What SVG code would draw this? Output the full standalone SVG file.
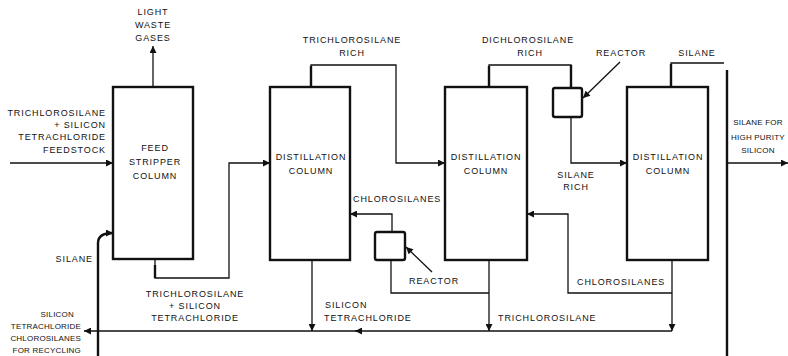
<svg xmlns="http://www.w3.org/2000/svg" width="788" height="356" viewBox="0 0 788 356">
<defs>
<marker id="ah" viewBox="0 0 10 10" refX="10" refY="5" markerWidth="8" markerHeight="7" markerUnits="userSpaceOnUse" orient="auto">
<path d="M0,0 L10,5 L0,10 z" fill="#111"/>
</marker>
</defs>
<style>
text{font-family:"Liberation Sans",Arial,sans-serif;font-size:9px;letter-spacing:0.9px;fill:#111}
.c{text-anchor:middle}
.e{text-anchor:end}
.s{font-size:8px;letter-spacing:0.2px}
.box{fill:#fff;stroke:#111;stroke-width:2.4}
.ln{fill:none;stroke:#111;stroke-width:1.3}
.tk{fill:none;stroke:#111;stroke-width:2.4}
.ar{marker-end:url(#ah)}
</style>
<rect width="788" height="356" fill="#fff"/>

<g id="connectors">
<path class="ln ar" d="M153,87 V46"/>
<path class="ln ar" d="M10,163 H113"/>
<path class="tk ar" d="M98,356 V243 Q98,233 113,233"/>
<path class="ln ar" d="M155,259 V278 H229 V163 H270"/>
<path class="tk" d="M155,265 V278"/>
<path class="ln ar" d="M311,87 V65 H396 V163 H445"/>
<path class="tk" d="M311,87 V66"/>
<path class="ln ar" d="M312,260 V331"/>
<path class="ln ar" d="M392,232 V214 H350"/>
<path class="ln" d="M391,260 V293 H489"/>
<path class="ln ar" d="M489,260 V331"/>
<path class="ln" d="M489,87 V65 H571 V88"/>
<path class="tk" d="M489,87 V66"/>
<path class="tk" d="M571,65 V88"/>
<path class="ln ar" d="M571,117 V163 H627"/>
<path class="ln" d="M671,87 V63 H724"/>
<path class="tk" d="M671,87 V64"/>
<path class="tk" d="M727,70 V356"/>
<path class="ln ar" d="M727,163 H788"/>
<path class="ln ar" d="M672,260 V331"/>
<path class="ln ar" d="M672,293 H568 V214 H527"/>
<path class="ln ar" d="M672,331 H355"/>
<path class="ln ar" d="M357,331 H84"/>
<path class="ln ar" d="M432,272 L406,247"/>
<path class="ln ar" d="M620,62 L583,98"/>
</g>

<g id="feed-stripper">
<rect class="box" x="113" y="87" width="80" height="172"/>
<text class="c" x="155" y="151">FEED</text>
<text class="c" x="155" y="165">STRIPPER</text>
<text class="c" x="155" y="179">COLUMN</text>
</g>
<g id="distillation-1">
<rect class="box" x="270" y="87" width="80" height="173"/>
<text class="c" x="311" y="160">DISTILLATION</text>
<text class="c" x="311" y="174">COLUMN</text>
</g>
<g id="distillation-2">
<rect class="box" x="445" y="87" width="82" height="173"/>
<text class="c" x="486" y="160">DISTILLATION</text>
<text class="c" x="486" y="174">COLUMN</text>
</g>
<g id="distillation-3">
<rect class="box" x="627" y="87" width="81" height="173"/>
<text class="c" x="668" y="160">DISTILLATION</text>
<text class="c" x="668" y="174">COLUMN</text>
</g>
<g id="reactor-1">
<rect class="box" x="375" y="232" width="30" height="28" rx="2"/>
</g>
<g id="reactor-2">
<rect class="box" x="553" y="88" width="29" height="29" rx="2"/>
</g>

<g id="labels">
<text class="c" x="153" y="15">LIGHT</text>
<text class="c" x="153" y="28">WASTE</text>
<text class="c" x="153" y="41">GASES</text>
<text class="e" x="106" y="116">TRICHLOROSILANE</text>
<text class="e" x="106" y="128">+ SILICON</text>
<text class="e" x="106" y="140">TETRACHLORIDE</text>
<text class="e" x="106" y="153">FEEDSTOCK</text>
<text class="e" x="93" y="262">SILANE</text>
<text class="e s" x="74" y="317">SILICON</text>
<text class="e s" x="81" y="329">TETRACHLORIDE</text>
<text class="e s" x="81" y="341">CHLOROSILANES</text>
<text class="e s" x="81" y="353">FOR RECYCLING</text>
<text class="c" x="195" y="297">TRICHLOROSILANE</text>
<text class="c" x="195" y="309">+ SILICON</text>
<text class="c" x="195" y="321">TETRACHLORIDE</text>
<text class="c" x="352" y="43">TRICHLOROSILANE</text>
<text class="c" x="352" y="56">RICH</text>
<text x="353" y="202">CHLOROSILANES</text>
<text x="409" y="284">REACTOR</text>
<text x="325" y="308">SILICON</text>
<text x="324" y="321">TETRACHLORIDE</text>
<text x="498" y="321">TRICHLOROSILANE</text>
<text class="c" x="528" y="43">DICHLOROSILANE</text>
<text class="c" x="530" y="56">RICH</text>
<text class="c" x="621" y="56">REACTOR</text>
<text class="c" x="697" y="56">SILANE</text>
<text class="c" x="576" y="178">SILANE</text>
<text class="c" x="576" y="190">RICH</text>
<text x="577" y="285">CHLOROSILANES</text>
<text class="c s" x="758" y="125">SILANE FOR</text>
<text class="c s" x="758" y="140">HIGH PURITY</text>
<text class="c s" x="758" y="153">SILICON</text>
</g>
</svg>
